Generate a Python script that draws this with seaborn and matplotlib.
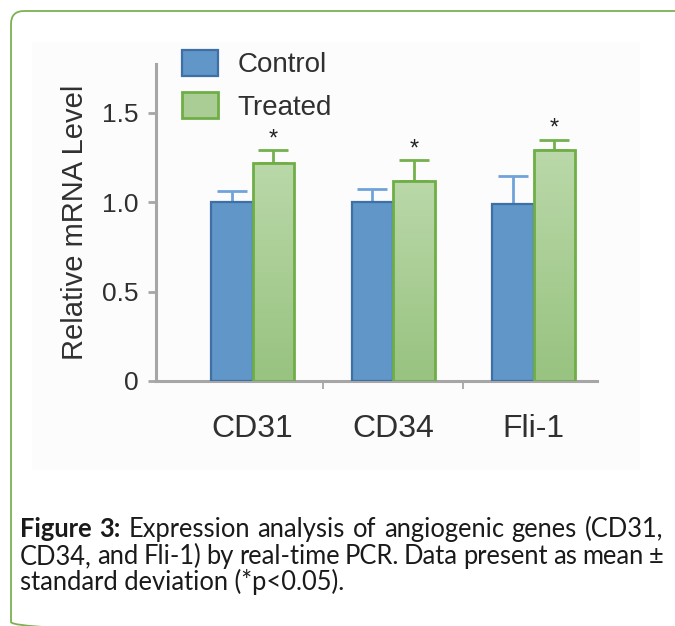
import numpy as np
import pandas as pd
import matplotlib
matplotlib.use("Agg")
import matplotlib.pyplot as plt
import seaborn as sns
from matplotlib.patches import Patch, FancyBboxPatch, Rectangle
from matplotlib.colors import LinearSegmentedColormap

# ---------------- data ----------------
genes = ["CD31", "CD34", "Fli-1"]
groups = ["Control", "Treated"]
control_mean = [1.00, 1.00, 0.99]
control_sd = [0.065, 0.075, 0.155]
treated_mean = [1.22, 1.12, 1.29]
treated_sd = [0.07, 0.115, 0.06]
significant = [True, True, True]
yticks = [0, 0.5, 1.0, 1.5]
ytick_labels = ["0", "0.5", "1.0", "1.5"]
ylabel = "Relative mRNA Level"
caption_lines = [
    [("Figure", "bold"), ("3:", "bold"), ("Expression", "normal"), ("analysis", "normal"),
     ("of", "normal"), ("angiogenic", "normal"), ("genes", "normal"), ("(CD31,", "normal")],
    [(w, "normal") for w in "CD34, and Fli-1) by real-time PCR. Data present as mean ±".split(" ")],
]
caption_last = "standard deviation (*p<0.05)."

df = pd.DataFrame({
    "gene": genes * 2,
    "group": ["Control"] * 3 + ["Treated"] * 3,
    "value": control_mean + treated_mean,
})

# ---------------- style ----------------
sns.set_theme(style="ticks")
plt.rcParams["font.family"] = ["Liberation Sans", "DejaVu Sans"]

c_fill = "#6096c8"
c_edge = "#3f6fa7"
c_err = "#6fa3d9"
t_top = "#bad8a9"
t_bot = "#98c380"
t_edge = "#6fae47"
t_err = "#74b14c"
axis_gray = "#a6a6a6"
txt = "#303030"

fig = plt.figure(figsize=(6.75, 6.26), dpi=100)
W, H = 675, 626

# background layer in pixel coordinates
bg = fig.add_axes([0, 0, 1, 1])
bg.set_xlim(0, W)
bg.set_ylim(H, 0)
bg.axis("off")
bg.add_patch(Rectangle((32, 42), 608, 428, facecolor="#fcfcfc", edgecolor="none"))
bg.add_patch(FancyBboxPatch((11, 11), 700, 624, boxstyle="round,pad=0,rounding_size=13",
                            facecolor="none", edgecolor="#7bb153", linewidth=1.3))

ax = fig.add_axes([156 / W, 1 - 381 / H, 441 / W, 317 / H])
ax.patch.set_alpha(0)

sns.barplot(data=df, x="gene", y="value", hue="group", hue_order=groups,
            palette={"Control": c_fill, "Treated": t_bot}, width=0.59, gap=0,
            saturation=1, errorbar=None, legend=False, ax=ax)

ctrl_bars = ax.containers[0]
trt_bars = ax.containers[1]
for b in ctrl_bars:
    b.set_edgecolor(c_edge)
    b.set_linewidth(1.6)
    b.set_zorder(3)
for b in trt_bars:
    b.set_edgecolor(t_edge)
    b.set_linewidth(2.0)
    b.set_zorder(3)

cx = [b.get_x() + b.get_width() / 2 for b in ctrl_bars]
tx = [b.get_x() + b.get_width() / 2 for b in trt_bars]

ax.errorbar(cx, control_mean, yerr=[np.zeros(3), control_sd], fmt="none",
            ecolor=c_err, elinewidth=2.0, capsize=10.5, capthick=2.0, zorder=2)
ax.errorbar(tx, treated_mean, yerr=[np.zeros(3), treated_sd], fmt="none",
            ecolor=t_err, elinewidth=2.0, capsize=10.5, capthick=2.0, zorder=2)

for x, m, s, sig in zip(tx, treated_mean, treated_sd, significant):
    if sig:
        ax.annotate("*", xy=(x, m + s), xytext=(0, 3.5), textcoords="offset points",
                    ha="center", va="baseline", fontsize=17, color="#222222")

# gradient fill on treated bars
cmap = LinearSegmentedColormap.from_list("tg", [t_bot, t_top])
grad = np.linspace(0, 1, 64).reshape(-1, 1)
for b in trt_bars:
    x0, y0, w, h = b.get_x(), b.get_y(), b.get_width(), b.get_height()
    im = ax.imshow(grad, extent=[x0, x0 + w, y0, y0 + h], origin="lower",
                   aspect="auto", cmap=cmap, zorder=2.5, interpolation="bilinear")
    im.set_clip_path(b)
    b.set_facecolor("none")

ax.set_xlim(-0.688, 2.452)
ax.set_ylim(0, 1.774)

ax.set_yticks(yticks, ytick_labels)
ax.set_xticks([0, 1, 2], genes)
ax.set_xticks([0.5, 1.5], minor=True)
ax.tick_params(axis="y", length=6, width=2.0, color=axis_gray, labelsize=19,
               pad=6.5, labelcolor=txt, direction="out")
ax.tick_params(axis="x", which="major", length=0, pad=24, labelsize=23, labelcolor=txt)
ax.tick_params(axis="x", which="minor", length=6, width=1.3, color=axis_gray, direction="out")
ax.set_xlabel("")
ax.set_ylabel(ylabel, fontsize=21, color=txt)
ax.yaxis.set_label_coords(-0.152, 0.5)

for side in ["top", "right"]:
    ax.spines[side].set_visible(False)
for side in ["left", "bottom"]:
    ax.spines[side].set_color(axis_gray)
    ax.spines[side].set_linewidth(2.2)

handles = [Patch(facecolor=c_fill, edgecolor=c_edge, linewidth=1.6),
           Patch(facecolor="#a9cd94", edgecolor=t_edge, linewidth=2.0)]
leg = ax.legend(handles, groups, loc="upper left",
                bbox_to_anchor=(182 / W, 1 - 50 / H), bbox_transform=fig.transFigure,
                frameon=False, fontsize=20, handlelength=1.3, handleheight=1.05,
                handletextpad=0.7, labelspacing=0.5, borderpad=0, borderaxespad=0)
for t in leg.get_texts():
    t.set_color(txt)

# ---------------- caption (justified) ----------------
renderer = fig.canvas.get_renderer()
cap_font = ["Lato", "DejaVu Sans"]
probe = fig.text(0, 0, caption_last, fontsize=14, family=cap_font)
pw = probe.get_window_extent(renderer).width
probe.remove()
cap_size = 14 * 327 / pw

left_px, right_px = 20, 663
baselines = [537, 564, 590]
for line, yb in zip(caption_lines, baselines):
    objs = [fig.text(0, 1 - yb / H, w, fontsize=cap_size, family=cap_font,
                     fontweight=wt, color="#1a1a1a", va="baseline") for w, wt in line]
    widths = [o.get_window_extent(renderer).width for o in objs]
    gap = (right_px - left_px - sum(widths)) / (len(objs) - 1)
    xpos = left_px
    for o, wd in zip(objs, widths):
        o.set_x(xpos / W)
        xpos += wd + gap
fig.text(left_px / W, 1 - baselines[2] / H, caption_last, fontsize=cap_size,
         family=cap_font, color="#1a1a1a", va="baseline")

fig.savefig("out.png", dpi=100)
